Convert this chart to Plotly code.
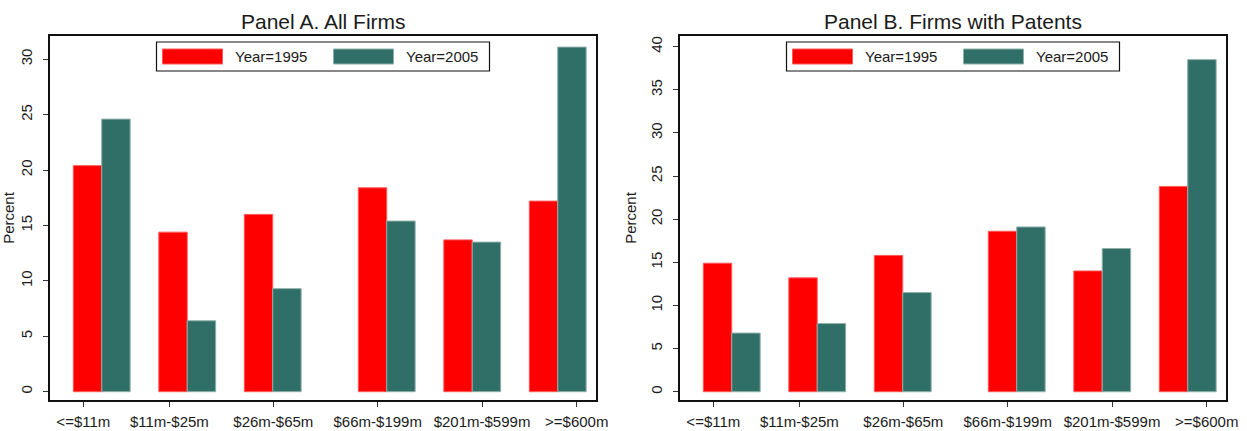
import plotly.graph_objects as go

# Firm size classes (sales) and share of firms in each class, percent
size_labels = ["<=$11m", "$11m-$25m", "$26m-$65m", "$66m-$199m", "$201m-$599m", ">=$600m"]
all_firms_1995 = [20.4, 14.4, 16.0, 18.4, 13.7, 17.2]
all_firms_2005 = [24.6, 6.4, 9.3, 15.4, 13.5, 31.1]
patent_firms_1995 = [14.9, 13.2, 15.8, 18.6, 14.0, 23.8]
patent_firms_2005 = [6.8, 7.9, 11.5, 19.1, 16.6, 38.5]
series_names = ["Year=1995", "Year=2005"]
panel_titles = ["Panel A. All Firms", "Panel B. Firms with Patents"]

# ---- layout constants ----
W, H = 1247, 431
FONT = "Arial, Liberation Sans, sans-serif"
TXT = "#1a1a1a"
RED = "#ff0000"
TEAL = "#2f6f67"
RED_EDGE = "#ff5a5a"
TEAL_EDGE = "#8fb0aa"

# bar-group centres along the category axis (wider gap after the third group)
GROUP_POS = [0, 1, 2, 3 + 1 / 3, 4 + 1 / 3, 5 + 1 / 3]
# where the size-class labels sit on that axis
LABEL_POS = [-0.215, 0.791, 2.007, 3.228, 4.448, 5.556]
X_RANGE = [-0.605, 5.781]

PLOT_TOP, PLOT_BOTTOM = 36, 400
PANEL_LEFT = [50, 680]
PANEL_WIDTH = 546


def px_x(px):
    return px / W


def px_y(py):
    return 1 - py / H


fig = go.Figure()

panels = [
    (all_firms_1995, all_firms_2005, [-0.75, 32.1], 30),
    (patent_firms_1995, patent_firms_2005, [-0.96, 41.24], 40),
]

shapes = []
annotations = []

for i, (v95, v05, yrange, ymax) in enumerate(panels):
    n = "" if i == 0 else str(i + 1)
    xa, ya = "x" + n, "y" + n
    for vals, name, col, edge in [(v95, series_names[0], RED, RED_EDGE),
                                  (v05, series_names[1], TEAL, TEAL_EDGE)]:
        fig.add_trace(go.Bar(
            x=GROUP_POS, y=vals, name=name, xaxis=xa, yaxis=ya,
            marker=dict(color=col, line=dict(color=edge, width=1)),
            showlegend=False, hoverinfo="y",
        ))

    left = PANEL_LEFT[i]
    dom_x = [px_x(left), px_x(left + PANEL_WIDTH)]
    dom_y = [px_y(PLOT_BOTTOM), px_y(PLOT_TOP)]

    axis_common = dict(showline=True, linecolor="#111", linewidth=1.5, mirror=True,
                       ticks="outside", ticklen=5, tickwidth=1, tickcolor="#333",
                       showgrid=False, zeroline=False, automargin=False,
                       tickfont=dict(family=FONT, size=15, color=TXT))
    fig.update_layout(**{
        "xaxis" + n: dict(domain=dom_x, range=X_RANGE, tickmode="array",
                          tickvals=LABEL_POS, ticktext=size_labels,
                          ticklabelstandoff=2,
                          anchor=ya, **axis_common),
        "yaxis" + n: dict(domain=dom_y, range=yrange, tickmode="array",
                          tickvals=list(range(0, ymax + 1, 5)), tickangle=-90,
                          ticklabelstandoff=5,
                          title=dict(text="Percent", standoff=8,
                                     font=dict(family=FONT, size=15, color=TXT)),
                          anchor=xa, **axis_common),
    })

    # panel title
    annotations.append(dict(
        text=panel_titles[i], xref="paper", yref="paper",
        x=px_x(left + PANEL_WIDTH / 2), y=px_y(21), xanchor="center", yanchor="middle",
        showarrow=False, font=dict(family=FONT, size=21, color=TXT)))

    # key box with wide colour swatches
    bx = left + PANEL_WIDTH / 2 - 166.5
    shapes.append(dict(type="rect", xref="paper", yref="paper",
                       x0=px_x(bx), x1=px_x(bx + 333), y0=px_y(71), y1=px_y(42),
                       line=dict(color="#111", width=1.2), fillcolor="white"))
    for off, col, edge, name in [(6, RED, RED_EDGE, series_names[0]),
                                 (177, TEAL, TEAL_EDGE, series_names[1])]:
        shapes.append(dict(type="rect", xref="paper", yref="paper",
                           x0=px_x(bx + off), x1=px_x(bx + off + 60),
                           y0=px_y(64), y1=px_y(49),
                           line=dict(color=edge, width=1), fillcolor=col))
        annotations.append(dict(
            text=name, xref="paper", yref="paper",
            x=px_x(bx + off + 70), y=px_y(56.5), xanchor="left", yanchor="middle",
            showarrow=False, font=dict(family=FONT, size=15, color=TXT)))

fig.update_layout(
    width=W, height=H,
    margin=dict(l=0, r=0, t=0, b=0),
    paper_bgcolor="white", plot_bgcolor="white",
    barmode="group", bargap=0.335, bargroupgap=0,
    showlegend=False,
    shapes=shapes, annotations=annotations,
    font=dict(family=FONT, color=TXT),
)

fig.write_html("out.html")
